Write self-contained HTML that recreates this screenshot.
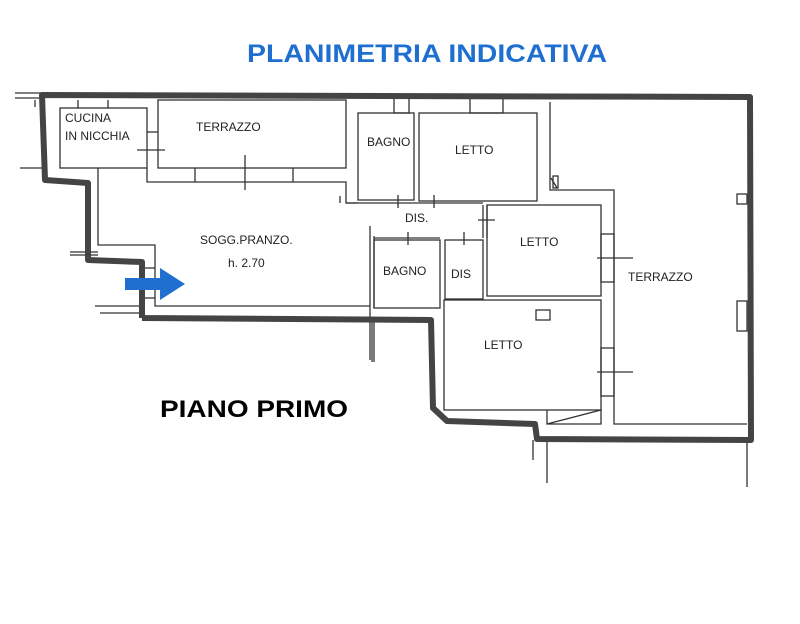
<!DOCTYPE html>
<html><head><meta charset="utf-8"><style>
html,body{margin:0;padding:0;background:#fff;width:800px;height:624px;overflow:hidden}
svg text{font-family:"Liberation Sans",Arial,sans-serif}
</style></head><body>
<svg width="800" height="624" viewBox="0 0 800 624" xmlns="http://www.w3.org/2000/svg">
<text x="247" y="62" font-size="25" font-weight="bold" fill="#1f6fd0" textLength="360" lengthAdjust="spacingAndGlyphs">PLANIMETRIA INDICATIVA</text>
<text x="160" y="417" font-size="24" font-weight="bold" fill="#000" textLength="188" lengthAdjust="spacingAndGlyphs">PIANO PRIMO</text>
<g fill="none" stroke="#333" stroke-width="1.3">
<line x1="15" y1="93" x2="42" y2="93"/><line x1="15" y1="98" x2="42" y2="98"/>
<line x1="20" y1="168" x2="45" y2="168"/><line x1="70" y1="252" x2="98" y2="252"/><line x1="70" y1="255" x2="98" y2="255"/>
<line x1="95" y1="306" x2="140" y2="306"/><line x1="100" y1="313" x2="140" y2="313"/>
<rect x="60" y="108" width="87" height="60"/>
<line x1="35" y1="100" x2="35" y2="107"/><line x1="78" y1="100" x2="78" y2="108"/><line x1="108" y1="100" x2="108" y2="108"/>
<rect x="158" y="100" width="188" height="68"/>
<polyline points="147,168 147,182 346,182 346,203 358,203"/>
<line x1="195" y1="168" x2="195" y2="182"/><line x1="293" y1="168" x2="293" y2="182"/>
<line x1="245" y1="155" x2="245" y2="190"/><line x1="137" y1="150" x2="165" y2="150"/><line x1="147" y1="132" x2="158" y2="132"/>
<polyline points="98,168 98,245 155,245 155,306 370,306"/>
<line x1="140" y1="268" x2="155" y2="268"/><line x1="140" y1="298" x2="155" y2="298"/>
<rect x="358" y="113" width="56" height="87"/>
<rect x="419" y="113" width="118" height="88"/>
<rect x="394" y="97" width="15" height="16"/><rect x="470" y="97" width="33" height="16"/>
<line x1="398" y1="195" x2="398" y2="208"/><line x1="434" y1="195" x2="434" y2="208"/>
<polyline points="346,203 483,203"/>
<line x1="483" y1="205" x2="483" y2="238"/><line x1="487" y1="205" x2="487" y2="238"/>
<line x1="478" y1="220" x2="495" y2="220"/>
<polyline points="374,238 440,238"/><line x1="374" y1="236" x2="374" y2="308"/><line x1="370" y1="226" x2="370" y2="360"/>
<line x1="408" y1="232" x2="408" y2="245"/><line x1="464" y1="232" x2="464" y2="245"/>
<rect x="374" y="240" width="66" height="68"/>
<rect x="445" y="240" width="38" height="59"/>
<line x1="340" y1="196" x2="340" y2="203"/>
<rect x="487" y="205" width="114" height="91"/>
<rect x="444" y="300" width="157" height="110"/>
<rect x="536" y="310" width="14" height="10"/>
<polyline points="547,410 547,424 601,424 601,410 547,424"/>
<polyline points="550,102 550,190 614,190 614,424 747,424"/>
<line x1="551" y1="178" x2="557" y2="188"/><rect x="553" y="176" width="5" height="12"/>
<rect x="601" y="234" width="13" height="48"/><rect x="601" y="348" width="13" height="48"/>
<line x1="597" y1="258" x2="633" y2="258"/><line x1="597" y1="372" x2="633" y2="372"/>
<rect x="737" y="194" width="10" height="10"/><rect x="737" y="301" width="10" height="30"/>
<line x1="372" y1="320" x2="372" y2="362"/><line x1="374" y1="320" x2="374" y2="362"/>
<line x1="533" y1="440" x2="533" y2="460"/><line x1="547" y1="440" x2="547" y2="483"/><line x1="747" y1="440" x2="747" y2="487"/>
</g>
<g fill="none" stroke="#444" stroke-width="6" stroke-linejoin="round">
<polyline points="142,318 142,262 88,260 88,183 45,180 42,95 750,97 751,440 537,439 535,424 447,421 433,408 431,320 142,318"/>
</g>
<g font-size="12" fill="#222">
<text x="65" y="122">CUCINA</text><text x="65" y="140">IN NICCHIA</text>
<text x="196" y="131">TERRAZZO</text>
<text x="367" y="146">BAGNO</text><text x="455" y="154">LETTO</text>
<text x="405" y="222">DIS.</text>
<text x="200" y="244">SOGG.PRANZO.</text><text x="228" y="267">h. 2.70</text>
<text x="520" y="246">LETTO</text>
<text x="383" y="275">BAGNO</text><text x="451" y="278">DIS</text>
<text x="628" y="281">TERRAZZO</text>
<text x="484" y="349">LETTO</text>
</g>
<polygon points="125,278 160,278 160,268 185,284 160,300 160,290 125,290" fill="#1f6fd0"/>
</svg>
</body></html>
